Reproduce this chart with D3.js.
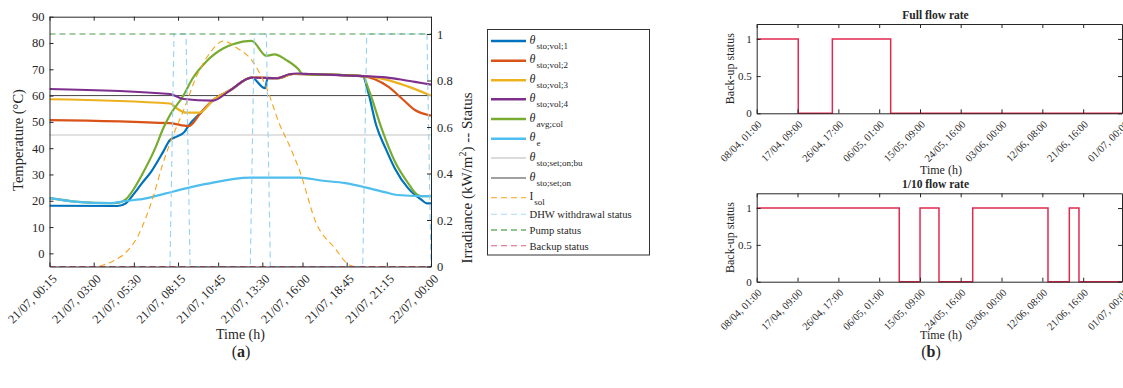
<!DOCTYPE html>
<html>
<head>
<meta charset="utf-8">
<script src="https://cdn.jsdelivr.net/npm/d3@7"></script>
<style>
  body { margin: 0; background: #fff; }
  svg text { font-family: "Liberation Serif", "Times New Roman", serif; fill: #262626; }
</style>
</head>
<body>
<svg id="fig" width="1123" height="388"></svg>
<script>
// ---------- (a) one day of storage / collector operation, 21/07 ----------
const dayTicks = ["00:15", "03:00", "05:30", "08:15", "10:45", "13:30", "16:00", "18:45", "21:15", "24:00"];
const dayTickLabels = ["21/07, 00:15", "21/07, 03:00", "21/07, 05:30", "21/07, 08:15", "21/07, 10:45",
                       "21/07, 13:30", "21/07, 16:00", "21/07, 18:45", "21/07, 21:15", "22/07, 00:00"];
const tempTicks = [0, 10, 20, 30, 40, 50, 60, 70, 80, 90];
const statusTicks = [0, 0.2, 0.4, 0.6, 0.8, 1];

// temperatures in °C, [time, value]
const thetaVol1 = [["00:15",18.1],["04:30",18.0],["05:00",19.0],["05:30",22.6],["06:00",26.6],["06:35",31.1],
  ["07:20",38.7],["07:45",43.1],["08:10",44.4],["08:40",46.3],["08:55",48.6],["09:40",53.5],["10:25",58.2],
  ["11:30",62.0],["12:50",66.8],["13:40",62.8],["13:50",66.6],["14:25",66.6],["15:25",68.2],["16:30",68.1],
  ["19:45",67.4],["20:05",61.5],["20:35",48.8],["21:10",40.0],["21:45",32.3],["22:35",24.7],["23:25",20.3],
  ["23:45",19.0],["24:00",19.0]];
const thetaVol2 = [["00:15",50.7],["07:45",49.5],["08:55",48.4],["09:40",53.5],["10:25",58.2],["11:30",62.0],
  ["12:50",66.8],["14:25",66.6],["15:25",68.2],["16:30",68.1],["19:45",67.4],["20:30",66.2],["21:20",63.4],
  ["22:10",59.0],["23:00",54.5],["24:00",52.4]];
const thetaVol3 = [["00:15",58.6],["07:45",57.0],["08:15",54.8],["08:45",53.5],["09:35",53.5],["10:25",58.2],
  ["11:30",62.0],["12:50",66.8],["14:25",66.6],["15:25",68.2],["16:30",68.1],["19:45",67.4],["20:30",66.9],
  ["21:20",65.9],["22:35",63.4],["24:00",60.0]];
const thetaVol4 = [["00:15",62.5],["07:45",60.6],["08:35",58.7],["10:25",58.1],["11:30",62.0],["12:50",66.8],
  ["14:25",66.6],["15:10",68.1],["15:40",68.4],["16:30",68.2],["19:45",67.4],["21:00",67.0],["22:00",66.2],
  ["23:00",65.2],["24:00",64.2]];
const thetaAvgCol = [["00:15",21.0],["02:00",19.6],["04:00",19.1],["04:30",19.2],["05:00",20.5],["05:30",24.5],
  ["06:00",29.8],["06:50",40.0],["07:20",47.6],["07:45",52.6],["08:35",60.0],["09:10",66.6],["10:00",72.9],
  ["11:05",78.0],["11:40",79.5],["12:50",80.8],["13:45",75.1],["14:15",75.7],["15:00",73.5],["15:45",70.0],
  ["16:00",68.2],["16:30",68.1],["19:45",67.4],["20:10",61.5],["20:55",47.6],["21:45",34.9],["22:35",26.6],
  ["23:10",22.2],["23:25",21.8],["24:00",21.8]];
const thetaE = [["00:15",21.0],["02:00",19.6],["04:00",19.1],["05:00",19.9],["06:15",20.9],["07:30",22.8],
  ["08:45",24.7],["10:00",26.4],["12:45",28.8],["15:50",28.8],["17:10",27.7],["18:40",26.7],["19:55",25.1],
  ["21:10",23.2],["21:55",22.2],["23:25",21.8],["24:00",21.8]];
const thetaSetOnBu = [["00:15",45],["24:00",45]];
const thetaSetOn = [["00:15",60],["24:00",60]];

// irradiance (kW/m²) and on/off statuses, [time, value]
const iSol = [["00:15",0],["03:15",0],["03:45",0.01],["04:15",0.025],["05:00",0.06],["05:45",0.13],["06:15",0.21],
  ["06:45",0.31],["07:15",0.43],["07:45",0.53],["08:35",0.67],["09:25",0.82],["10:15",0.92],["11:05",0.97],
  ["11:55",0.94],["12:55",0.88],["13:45",0.77],["14:35",0.61],["15:15",0.51],["15:50",0.41],["16:50",0.19],
  ["18:00",0.08],["18:55",0.006],["19:15",0],["24:00",0]];
const dhwStatus = [["00:15",0],["07:45",0],["08:00",1],["08:45",1],["09:00",0],["12:45",0],["13:00",1],
  ["13:45",1],["14:00",0],["19:45",0],["20:00",1],["23:45",1],["24:00",0]];
const pumpStatus = [["00:15",1],["24:00",1]];
const backupStatus = [["00:15",0],["24:00",0]];

// ---------- (b) back-up status over the season ----------
const seasonTicks = ["08/04 01:00","17/04 09:00","26/04 17:00","06/05 01:00","15/05 09:00",
                     "24/05 16:00","03/06 00:00","12/06 08:00","21/06 16:00","01/07 00:00"];
const seasonTickLabels = ["08/04, 01:00","17/04, 09:00","26/04, 17:00","06/05, 01:00","15/05, 09:00",
                          "24/05, 16:00","03/06, 00:00","12/06, 08:00","21/06, 16:00","01/07, 00:00"];
const backupTicks = [0, 0.5, 1];
const backupFullFlow = [["08/04 01:00",1],["17/04 13:00",0],["25/04 08:00",1],["08/05 16:00",0],["30/06 13:00",0]];
const backupTenthFlow = [["08/04 01:00",1],["10/05 15:00",0],["15/05 09:00",1],["19/05 17:00",0],
  ["27/05 10:00",1],["13/06 15:00",0],["18/06 12:00",1],["20/06 17:00",0],["30/06 13:00",0]];

// ---------- helpers ----------
const minutesOf = s => { const [h, m] = s.split(":").map(Number); return h * 60 + m; };
const dateOf = s => {
  const [dm, hm] = s.split(" ");
  const [d, mo] = dm.split("/").map(Number);
  const [h, mi] = hm.split(":").map(Number);
  return new Date(Date.UTC(2021, mo - 1, d, h, mi));
};
const AX = "#262626";
const svg = d3.select("#fig");

function styleAxis(g) {
  g.selectAll("path.domain").attr("stroke", AX).attr("stroke-width", 1);
  g.selectAll(".tick line").attr("stroke", AX).attr("stroke-width", 1);
  g.selectAll(".tick text").attr("fill", AX).style("font-family", '"Liberation Serif", serif');
}

// ================= (a) =================
const A = { left: 49.5, right: 431, top: 16.7, bottom: 266.5 };
const x = d3.scaleLinear().domain([15, 1440]).range([A.left, A.right]);
const yT = d3.scaleLinear().domain([-5, 90]).range([A.bottom, A.top]);
const yS = d3.scaleLinear().domain([0, (A.bottom - A.top) / 232.5]).range([A.bottom, A.top]);

svg.append("defs").append("clipPath").attr("id", "clipA")
  .append("rect").attr("x", A.left).attr("y", A.top - 2)
  .attr("width", A.right - A.left).attr("height", A.bottom - A.top + 4);

const plotA = svg.append("g").attr("clip-path", "url(#clipA)");
const lineT = d3.line().x(d => x(minutesOf(d[0]))).y(d => yT(d[1]));
const lineS = d3.line().x(d => x(minutesOf(d[0]))).y(d => yS(d[1]));

const tempSeries = [
  { data: thetaSetOnBu, color: "#c4c4c4", w: 1.1, smooth: false },
  { data: thetaSetOn, color: "#454545", w: 1.0, smooth: false },
  { data: thetaVol1, color: "#0072BD", w: 2.2, smooth: true },
  { data: thetaVol2, color: "#D95319", w: 2.2, smooth: true },
  { data: thetaVol3, color: "#EDB120", w: 2.2, smooth: true },
  { data: thetaAvgCol, color: "#77AC30", w: 2.2, smooth: true },
  { data: thetaVol4, color: "#7E2F8E", w: 2.2, smooth: true },
  { data: thetaE, color: "#4DBEEE", w: 2.2, smooth: true }
];
tempSeries.forEach(s => {
  plotA.append("path").datum(s.data)
    .attr("d", lineT.curve(s.smooth ? d3.curveMonotoneX : d3.curveLinear))
    .attr("fill", "none").attr("stroke", s.color).attr("stroke-width", s.w)
    .attr("stroke-linejoin", "round");
});

const statusSeries = [
  { data: iSol, color: "#f6a21c", smooth: true },
  { data: dhwStatus, color: "#93d2f3", smooth: false },
  { data: pumpStatus, color: "#4b9b4b", smooth: false },
  { data: backupStatus, color: "#e0607e", smooth: false }
];
statusSeries.forEach(s => {
  plotA.append("path").datum(s.data)
    .attr("d", lineS.curve(s.smooth ? d3.curveMonotoneX : d3.curveLinear))
    .attr("fill", "none").attr("stroke", s.color).attr("stroke-width", 1.1)
    .attr("stroke-dasharray", "6,4");
});

// axes of (a)
const tickMin = dayTicks.map(minutesOf);
const gxA = svg.append("g").attr("transform", `translate(0,${A.bottom})`)
  .call(d3.axisBottom(x).tickValues(tickMin).tickSize(-4).tickSizeOuter(0).tickFormat(""));
const gxA2 = svg.append("g").attr("transform", `translate(0,${A.top})`)
  .call(d3.axisTop(x).tickValues(tickMin).tickSize(-4).tickSizeOuter(0).tickFormat(""));
const gyA = svg.append("g").attr("transform", `translate(${A.left},0)`)
  .call(d3.axisLeft(yT).tickValues(tempTicks).tickSize(-4).tickSizeOuter(0).tickPadding(5));
const gyA2 = svg.append("g").attr("transform", `translate(${A.right},0)`)
  .call(d3.axisRight(yS).tickValues(statusTicks).tickSize(-4).tickSizeOuter(0).tickPadding(6)
        .tickFormat(d3.format("")));
[gxA, gxA2, gyA, gyA2].forEach(styleAxis);
gyA.selectAll(".tick text").style("font-size", "12.5px");
gyA2.selectAll(".tick text").style("font-size", "12.5px");

svg.append("g").selectAll("text").data(tickMin).join("text")
  .attr("transform", d => `translate(${x(d) + 5},${A.bottom + 10}) rotate(-45)`)
  .attr("text-anchor", "end").attr("dy", "0.35em")
  .style("font-size", "12.5px")
  .text((d, i) => dayTickLabels[i]);

svg.append("text").attr("x", 240.5).attr("y", 339).attr("text-anchor", "middle")
  .style("font-size", "14px").text("Time (h)");
svg.append("text").attr("transform", `translate(23,140) rotate(-90)`).attr("text-anchor", "middle")
  .style("font-size", "14.5px").text("Temperature (°C)");
const rl = svg.append("text").attr("transform", `translate(472,178) rotate(-90)`)
  .attr("text-anchor", "middle").style("font-size", "15px");
rl.append("tspan").text("Irradiance (kW/m");
rl.append("tspan").attr("dy", -6).style("font-size", "10px").text("2");
rl.append("tspan").attr("dy", 6).text(") -- Status");

// legend of (a)
const legendItems = [
  { main: "θ", sub: "sto;vol;1", color: "#0072BD", w: 2.5, dash: null },
  { main: "θ", sub: "sto;vol;2", color: "#D95319", w: 2.5, dash: null },
  { main: "θ", sub: "sto;vol;3", color: "#EDB120", w: 2.5, dash: null },
  { main: "θ", sub: "sto;vol;4", color: "#7E2F8E", w: 2.5, dash: null },
  { main: "θ", sub: "avg;col", color: "#77AC30", w: 2.5, dash: null },
  { main: "θ", sub: "e", color: "#4DBEEE", w: 2.5, dash: null },
  { main: "θ", sub: "sto;set;on;bu", color: "#b8b8b8", w: 1.1, dash: null },
  { main: "θ", sub: "sto;set;on", color: "#808080", w: 1.4, dash: null },
  { main: "I", sub: "sol", color: "#f6a21c", w: 1.1, dash: "6,4" },
  { main: "DHW withdrawal status", sub: null, color: "#a9dcf5", w: 1.1, dash: "6,4" },
  { main: "Pump status", sub: null, color: "#1f8a1f", w: 1.1, dash: "6,4" },
  { main: "Backup status", sub: null, color: "#e0607e", w: 1.1, dash: "6,4" }
];
const legendRowY = [41, 60.7, 80.3, 99.3, 119, 138.7, 158, 178, 197.7, 214.3, 230, 245.7];
const lg = svg.append("g");
lg.append("rect").attr("x", 487.5).attr("y", 29.5).attr("width", 162).attr("height", 225.5)
  .attr("fill", "#fff").attr("stroke", "#333").attr("stroke-width", 1);
legendItems.forEach((it, i) => {
  const yy = legendRowY[i];
  lg.append("line").attr("x1", 491).attr("x2", 526).attr("y1", yy).attr("y2", yy)
    .attr("stroke", it.color).attr("stroke-width", it.w)
    .attr("stroke-dasharray", it.dash);
  if (it.sub) {
    const t = lg.append("text").attr("x", 529.5).attr("y", yy + 2.5);
    t.append("tspan").style("font-size", it.main === "θ" ? "12px" : "11.5px")
      .style("font-style", it.main === "θ" ? "italic" : "normal").text(it.main);
    t.append("tspan").attr("dx", 1).attr("dy", 5).style("font-size", "9px").text(it.sub);
  } else {
    lg.append("text").attr("x", 529.5).attr("y", yy + 3.8).style("font-size", "10.6px").text(it.main);
  }
});

// ================= (b) =================
const B = { left: 756.7, right: 1122 };
const xB = d3.scaleUtc().domain([dateOf("08/04 01:00"), dateOf("30/06 13:00")]).range([B.left, B.right]);
const panels = [
  { title: "Full flow rate", data: backupFullFlow, top: 24, bottom: 113.3, xlabelY: 173.5, id: "b1" },
  { title: "1/10 flow rate", data: backupTenthFlow, top: 193.3, bottom: 281.7, xlabelY: 339, id: "b2" }
];
const seasonDates = seasonTicks.map(dateOf);
panels.forEach(p => {
  const yB = d3.scaleLinear().domain([0, 1.2]).range([p.bottom, p.top]);
  svg.append("defs").append("clipPath").attr("id", p.id)
    .append("rect").attr("x", B.left).attr("y", p.top - 2)
    .attr("width", B.right - B.left).attr("height", p.bottom - p.top + 4);
  svg.append("g").attr("clip-path", `url(#${p.id})`).append("path").datum(p.data)
    .attr("d", d3.line().x(d => xB(dateOf(d[0]))).y(d => yB(d[1])).curve(d3.curveStepAfter))
    .attr("fill", "none").attr("stroke", "#e3284f").attr("stroke-width", 1.5);

  const gb = svg.append("g").attr("transform", `translate(0,${p.bottom})`)
    .call(d3.axisBottom(xB).tickValues(seasonDates).tickSize(-4).tickSizeOuter(0).tickFormat(""));
  const gt = svg.append("g").attr("transform", `translate(0,${p.top})`)
    .call(d3.axisTop(xB).tickValues(seasonDates).tickSize(-4).tickSizeOuter(0).tickFormat(""));
  const gl = svg.append("g").attr("transform", `translate(${B.left},0)`)
    .call(d3.axisLeft(yB).tickValues(backupTicks).tickSize(-4).tickSizeOuter(0).tickPadding(5)
          .tickFormat(d3.format("")));
  const gr = svg.append("g").attr("transform", `translate(${B.right},0)`)
    .call(d3.axisRight(yB).tickValues(backupTicks).tickSize(-4).tickSizeOuter(0).tickFormat(""));
  [gb, gt, gl, gr].forEach(styleAxis);
  gl.selectAll(".tick text").style("font-size", "11px");

  svg.append("g").selectAll("text").data(seasonDates).join("text")
    .attr("transform", d => `translate(${xB(d) + 3},${p.bottom + 9}) rotate(-45)`)
    .attr("text-anchor", "end").attr("dy", "0.35em")
    .style("font-size", "10.5px")
    .text((d, i) => seasonTickLabels[i]);

  svg.append("text").attr("x", 935.5).attr("y", p.top - 5).attr("text-anchor", "middle")
    .style("font-size", "11.5px").style("font-weight", "bold").attr("fill", "#000").text(p.title);
  svg.append("text").attr("x", 941).attr("y", p.xlabelY).attr("text-anchor", "middle")
    .style("font-size", "12px").text("Time (h)");
  svg.append("text").attr("transform", `translate(734,${(p.top + p.bottom) / 2}) rotate(-90)`)
    .attr("text-anchor", "middle").style("font-size", "12px").text("Back-up status");
});

// panel captions
[["a", 241], ["b", 931]].forEach(([c, cx]) => {
  const t = svg.append("text").attr("x", cx).attr("y", 357).attr("text-anchor", "middle")
    .style("font-size", "16px").attr("fill", "#000");
  t.append("tspan").text("(");
  t.append("tspan").style("font-weight", "bold").text(c);
  t.append("tspan").text(")");
});
</script>
</body>
</html>
